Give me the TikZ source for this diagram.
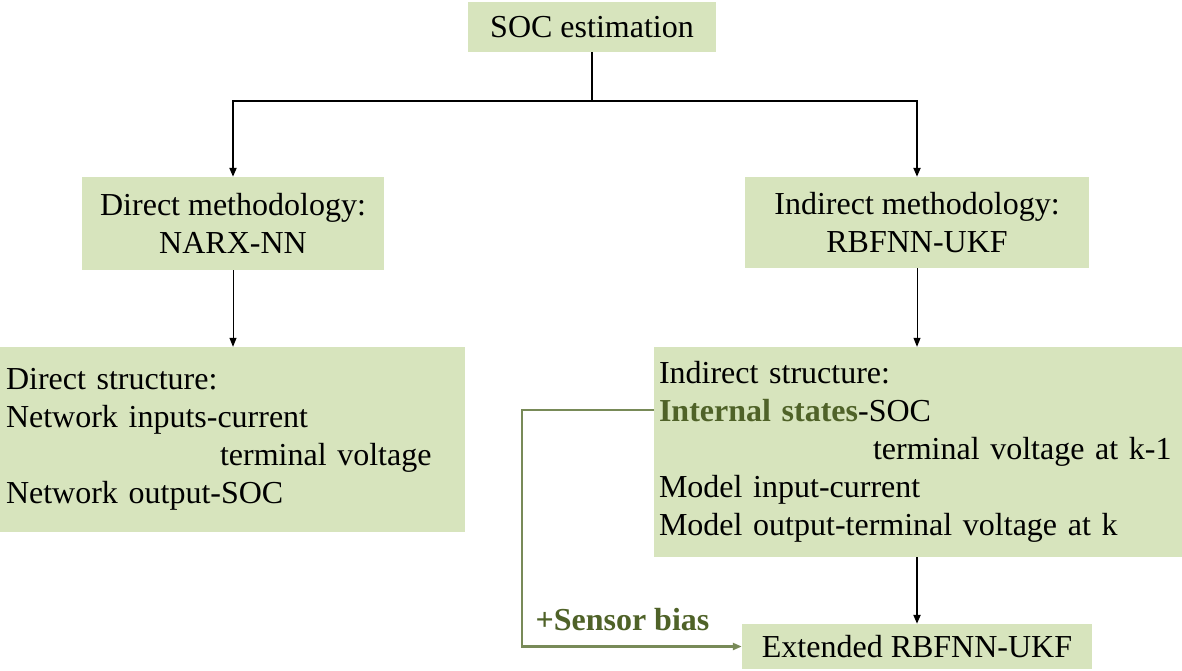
\documentclass[tikz,border=0pt]{standalone}
\usepackage{fontspec}
\setmainfont{Liberation Serif}
\usepackage{tikz}
\usetikzlibrary{arrows.meta}

\definecolor{boxgreen}{RGB}{215,228,189}
\definecolor{stategreen}{RGB}{79,98,40}
\definecolor{linegreen}{RGB}{120,138,88}

\begin{document}
\begin{tikzpicture}[x=1pt,y=-1pt,
  box/.style={fill=boxgreen,inner sep=0pt,font=\fontsize{32}{38}\selectfont},
  arr/.style={-{Triangle[length=9pt,width=7pt]}}]
\useasboundingbox (0,0) rectangle (1182,670);

\coordinate (S) at (592,27);
\coordinate (D) at (233,223.5);
\coordinate (I) at (917,222.5);
\coordinate (DS) at (232.5,439.5);
\coordinate (IS) at (918,452);
\coordinate (E) at (917,646.5);

\node[box,minimum width=248pt,minimum height=50pt] (soc) at (S) {SOC estimation};
\node[box,minimum width=302pt,minimum height=93pt,align=center] (direct) at (D) {Direct methodology:\\NARX-NN};
\node[box,minimum width=344pt,minimum height=91pt,align=center] (indirect) at (I) {Indirect methodology:\\RBFNN-UKF};
\node[box,minimum width=465pt,minimum height=185pt,text width=453pt,align=left] (dstruct) at (DS)
  {Direct structure:\\Network inputs-current\\\hspace*{214pt}terminal voltage\\Network output-SOC};
\node[box,minimum width=528pt,minimum height=210pt,text width=518pt,align=left] (istruct) at (IS)
  {Indirect structure:\\\textcolor{stategreen}{\textbf{Internal states}}-SOC\\\hspace*{214pt}terminal voltage at k-1\\Model input-current\\Model output-terminal voltage at k};
\node[box,minimum width=350pt,minimum height=45pt] (ext) at (E) {Extended RBFNN-UKF};

\coordinate (split) at (592,101);
\coordinate (tap) at (654,410);
\coordinate (bend) at (522,410);

\draw[line width=2pt] (soc.south) -- (split);
\draw[line width=2pt,arr] (split) -| (direct.north);
\draw[line width=2pt,arr] (split) -| (indirect.north);
\draw[line width=1pt,arr] (direct.south) -- (direct.south |- dstruct.north);
\draw[line width=1pt,arr] (indirect.south) -- (indirect.south |- istruct.north);
\draw[line width=2pt,arr] (ext.north |- istruct.south) -- (ext.north);
\draw[line width=2.5pt,linegreen,arr] (tap) -- (bend) |- (ext.west);
\node[anchor=base west,text=stategreen,font=\fontsize{32}{38}\selectfont\bfseries] (bias) at (532,630) {+Sensor bias};
\end{tikzpicture}
\end{document}
